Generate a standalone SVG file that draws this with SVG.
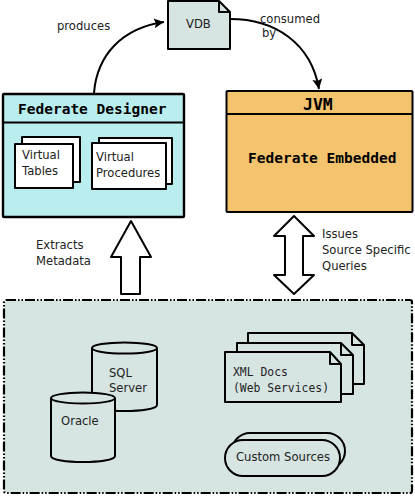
<svg xmlns="http://www.w3.org/2000/svg" width="415" height="496" viewBox="0 0 415 496">
<style>
text{font-family:"DejaVu Sans",sans-serif;font-size:11.6px;fill:#222}
.m{font-family:"DejaVu Sans Mono",monospace;font-size:11.4px}
.b{font-family:"DejaVu Sans Mono",monospace;font-weight:bold;font-size:14.5px;fill:#000}
.s{stroke:#000;fill:none;stroke-width:2;stroke-linejoin:round}
.w{fill:#fff}
.g{fill:#d6e4e2}
</style>
<defs><marker id="a" markerUnits="userSpaceOnUse" markerWidth="12" markerHeight="12" refX="10" refY="5" orient="auto"><path d="M0 0L10 5L0 10L2 5Z"/></marker></defs>
<rect width="415" height="496" fill="#fff"/>
<g id="sources">
<rect x="4" y="300" width="408" height="193" rx="2" class="g" stroke="#000" stroke-width="2.200" stroke-dasharray="10 2 1.500 2 1.500 2"/>
</g>
<g id="connectors">
<path d="M94 93C97 55 122 28 164 22" fill="none" stroke="#000" stroke-width="2" marker-end="url(#a)"/>
<path d="M230 19C275 19 311 43 319 89" fill="none" stroke="#000" stroke-width="2" marker-end="url(#a)"/>
<path d="M121 294V257H111L131 221L151 257H140V294Z" class="s w"/>
<path d="M294 216L314 236H303V275H314L294 294L274 275H285V236H274Z" class="s w"/>
</g>
<g id="vdb">
<path d="M168 1H219L230 12V49H168Z" class="s g"/>
<path d="M219 1V12H230" class="s"/>
<text x="186" y="28">VDB</text>
</g>
<g id="designer">
<rect x="3" y="94" width="181" height="123" rx="1" fill="#baeded" stroke="#000" stroke-width="2.400"/>
<path d="M2 122.500H185" stroke="#000" stroke-width="2"/>
<text x="18" y="114" class="b">Federate Designer</text>
<rect x="22" y="137" width="58" height="45" class="s w"/>
<rect x="15" y="144" width="58" height="44" class="s w"/>
<text x="22" y="159">Virtual</text><text x="22" y="175">Tables</text>
<rect x="99" y="138" width="73" height="46" class="s w"/>
<rect x="92" y="143" width="74" height="46" class="s w"/>
<text x="96" y="161">Virtual</text><text x="96" y="177">Procedures</text>
</g>
<g id="jvm">
<rect x="226.500" y="91" width="186" height="121" rx="1" fill="#f4c36e" stroke="#000" stroke-width="2"/>
<path d="M226 114H412" stroke="#000" stroke-width="2"/>
<text x="303" y="110" class="b" style="font-size:16.500px">JVM</text>
<text x="248" y="163" class="b">Federate Embedded</text>
</g>
<g id="sql">
<path d="M92 348V405C92 413 157 413 157 405V348" class="s g"/>
<ellipse cx="124.500" cy="348" rx="32.500" ry="5.500" class="s g"/>
<text x="109" y="377">SQL</text><text x="109" y="392">Server</text>
</g>
<g id="oracle">
<path d="M51 398V456C51 464 115 464 115 456V398" class="s g"/>
<ellipse cx="83" cy="398" rx="32" ry="5.500" class="s g"/>
<text x="61" y="425">Oracle</text>
</g>
<g id="xml">
<path d="M248 333H352L364 345V384H248Z" class="s g"/>
<path d="M352 333V345H364" class="s"/>
<path d="M237 343H341L353 355V394H237Z" class="s g"/>
<path d="M341 343V355H353" class="s"/>
<path d="M225 352H330L341 364V402H225Z" class="s g"/>
<path d="M330 352V364H341" class="s"/>
<text x="233" y="376" class="m">XML Docs</text>
<text x="233" y="392" class="m">(Web Services)</text>
</g>
<g id="custom">
<rect x="232" y="433" width="113" height="36" rx="18" class="s g"/>
<rect x="225" y="440" width="115" height="36" rx="18" class="s g"/>
<text x="236" y="461">Custom Sources</text>
</g>
<g id="labels">
<text x="57" y="30">produces</text>
<text x="260" y="23">consumed</text><text x="262" y="37">by</text>
<text x="36" y="249">Extracts</text><text x="36" y="265">Metadata</text>
<text x="322" y="238">Issues</text><text x="322" y="254">Source Specific</text><text x="322" y="270">Queries</text>
</g>
</svg>
